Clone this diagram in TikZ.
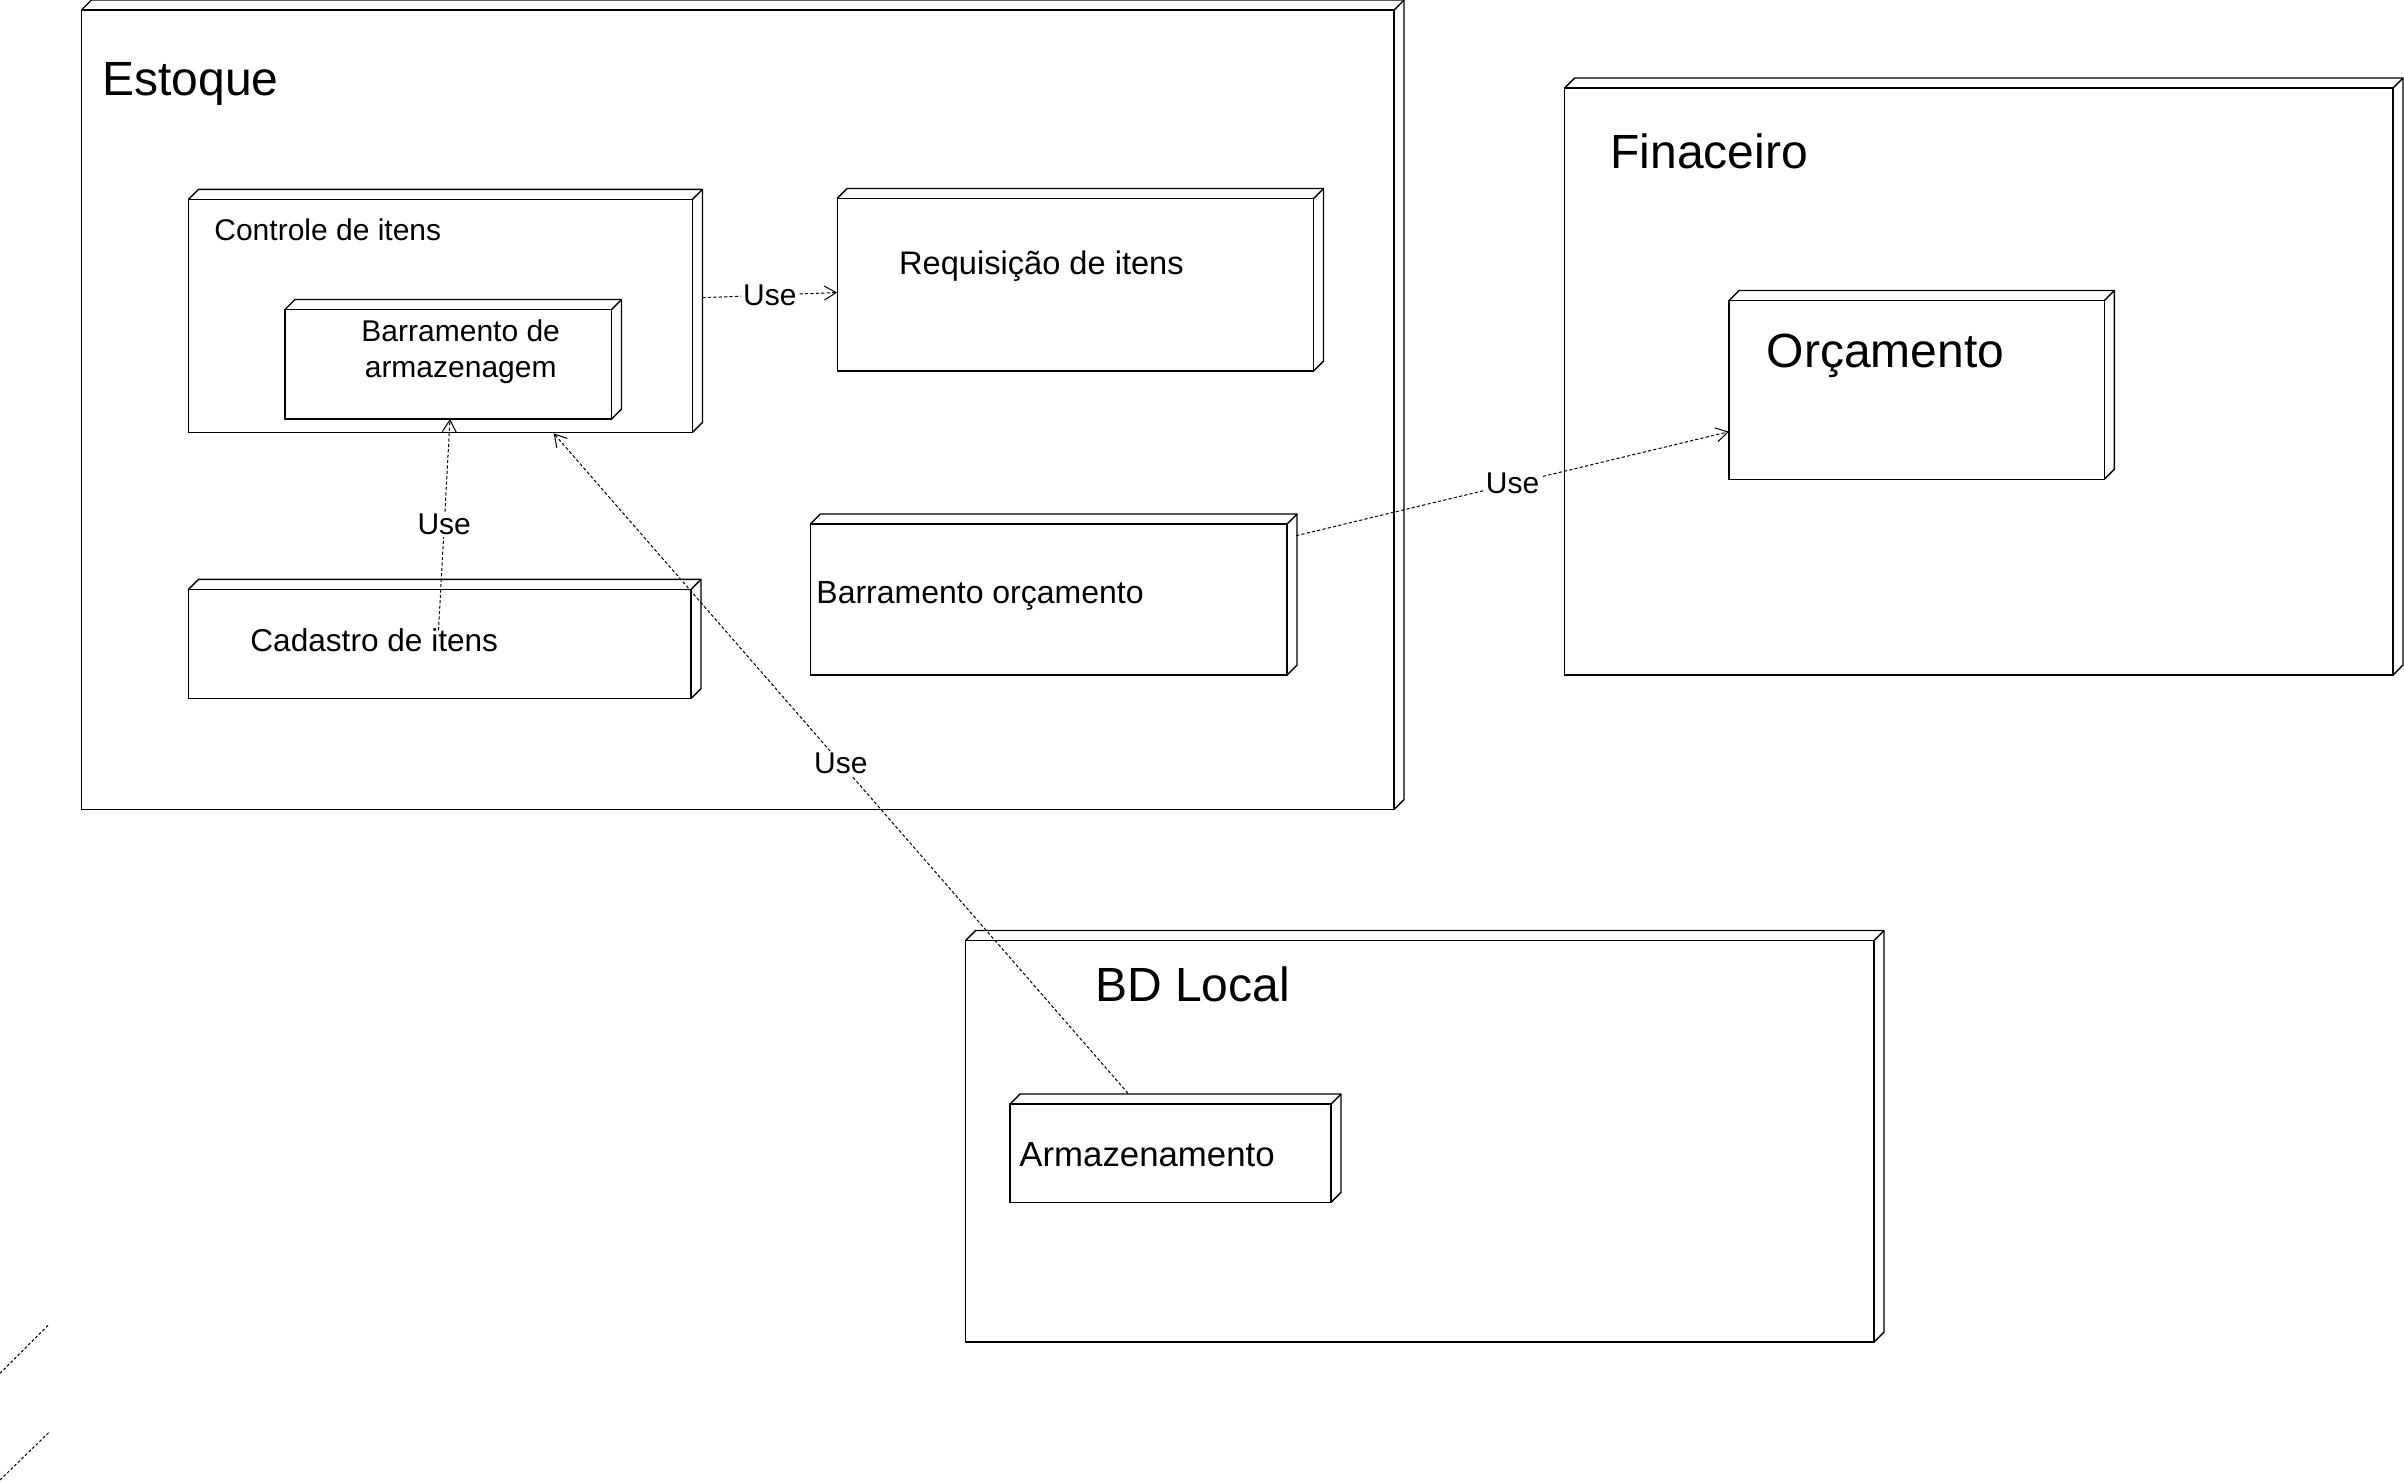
\documentclass[tikz,border=0pt]{standalone}
\usepackage{fontspec}
\setmainfont{Liberation Sans}
\usetikzlibrary{arrows.meta,calc}
\tikzset{
  boxfront/.style={draw, line width=0.7pt, inner sep=0pt, outer sep=0pt, anchor=north west},
  boxedge/.style={draw, line width=0.7pt, line join=round},
  lbl/.style={inner sep=0pt, anchor=base west},
  ctr/.style={inner sep=0pt, anchor=base},
  bigtxt/.style={font=\fontsize{24pt}{28.8pt}\selectfont},
  midtxt/.style={font=\fontsize{15pt}{18pt}\selectfont},
  usedep/.style={draw, line width=0.5pt, dash pattern=on 1.6pt off 1.1pt,
    -{Straight Barb[length=6pt,width=7pt,line width=0.5pt]}},
  uselbl/.style={fill=white, inner sep=1pt, font=\fontsize{15pt}{18pt}\selectfont},
  stub/.style={draw, line width=0.5pt, dash pattern=on 1.4pt off 1.1pt}
}
% name, x1, y1, x2, y2 (pixel units, y downwards)
\newcommand\threedbox[5]{%
  \node[boxfront, minimum width={(#4-#2)*0.5pt}, minimum height={(#5-#3)*0.5pt}] (#1) at (#2,#3) {};
  \draw[boxedge] (#1.north west) -- ++(10,-10) -- ($(#1.north east)+(10,-10)$)
     -- ($(#1.south east)+(10,-10)$) -- (#1.south east);
  \draw[boxedge] (#1.north east) -- ++(10,-10);
}
\begin{document}
\begin{tikzpicture}[x=0.5pt,y=-0.5pt]
\useasboundingbox (0,0) rectangle (2404,1483);

% containers
\threedbox{est}{81.5}{10}{1394}{809.5}
\threedbox{fin}{1564.5}{88}{2393}{675}
\threedbox{bd}{965.5}{940.5}{1874}{1342}

% inner boxes
\threedbox{ctrl}{188.6}{199.3}{692.5}{432.3}
\threedbox{barm}{285}{309.5}{611.5}{419}
\threedbox{req}{837.2}{198.5}{1313.5}{371}
\threedbox{cad}{188.5}{589.3}{691}{698.7}
\threedbox{borc}{810.4}{524}{1287}{675}
\threedbox{orc}{1729}{300.5}{2104.3}{479.3}
\threedbox{arm}{1010}{1104}{1331}{1202.3}

% texts
\node[lbl, bigtxt] (tEst) at (102,95) {Estoque};
\node[lbl, bigtxt] (tFin) at (1610,168.3) {Finaceiro};
\node[lbl, bigtxt] (tOrc) at (1766.5,367.4) {Orçamento};
\node[lbl, bigtxt] (tBd) at (1094.8,1001.7) {BD Local};
\node[lbl, midtxt] (tCtrl) at (214,240.7) {Controle de itens};
\node[ctr, midtxt] (tBarm1) at (460.7,341.7) {Barramento de};
\node[ctr, midtxt] (tBarm2) at (460.7,377.7) {armazenagem};
\node[lbl, font=\fontsize{16.3pt}{19.6pt}\selectfont] (tReq) at (898.8,274.8) {Requisição de itens};
\node[lbl, font=\fontsize{15.8pt}{19pt}\selectfont] (tCad) at (250,651) {Cadastro de itens};
\node[lbl, font=\fontsize{16pt}{19.2pt}\selectfont] (tBorc) at (816,603.6) {Barramento orçamento};
\node[lbl, font=\fontsize{17.4pt}{20.9pt}\selectfont] (tArm) at (1019,1166.7) {Armazenamento};

% connectors
\draw[usedep] ($(ctrl.north east)+(10,98.4)$) -- node[uselbl] (u1) {Use} ($(req.north west)+(0,94)$);
\draw[usedep] ($(cad.north west)+(250,41)$) -- node[uselbl] (u2) {Use} ($(barm.south)+(1.75,0)$);
\draw[usedep] ($(arm.north west)+(118,-10.7)$) -- node[uselbl] (u3) {Use} ($(ctrl.south west)+(365,1)$);
\draw[usedep] ($(borc.north east)+(9.2,11.7)$) -- node[uselbl] (u4) {Use} ($(orc.north west)+(0,131.2)$);

% stray dashed stubs at the bottom left
\coordinate (s1a) at (0,1373.3);
\coordinate (s1b) at (49.3,1324);
\coordinate (s2a) at (0,1480);
\coordinate (s2b) at (49.3,1432);
\draw[stub] (s1a) -- (s1b);
\draw[stub] (s2a) -- (s2b);
\end{tikzpicture}
\end{document}
